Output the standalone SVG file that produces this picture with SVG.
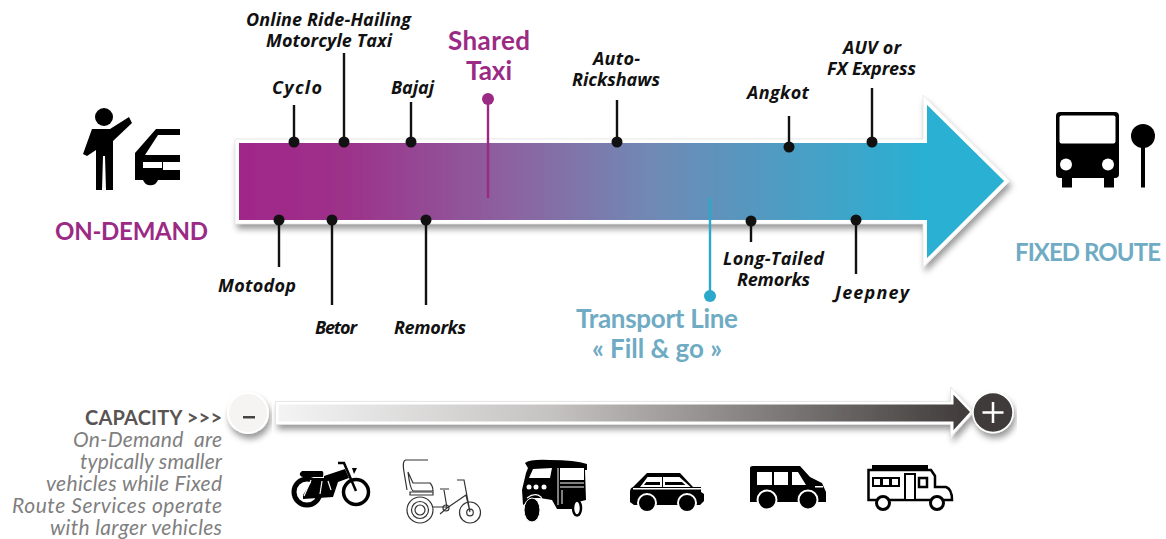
<svg xmlns="http://www.w3.org/2000/svg" width="1166" height="539" viewBox="0 0 1166 539">
<style>
.l{font:italic 700 18px "Open Sans","Liberation Sans",sans-serif;fill:#111}
.h{font:700 24px "Lato","Liberation Sans",sans-serif}
.t{font:700 26px "Lato","Liberation Sans",sans-serif}
.n{font:italic 400 21px "Lato","Liberation Sans",sans-serif;fill:#7f7f7f;white-space:pre}
.s{stroke:#111;stroke-width:2.4;fill:none}
.d{fill:#111}
</style>
<defs>
<linearGradient id="g1" gradientUnits="userSpaceOnUse" x1="237" y1="0" x2="925" y2="0"><stop offset="0" stop-color="#a0278a"/><stop offset=".15" stop-color="#9d3089"/><stop offset=".4" stop-color="#8c63a0"/><stop offset=".6" stop-color="#7089b4"/><stop offset="1" stop-color="#29b0d2"/></linearGradient>
<linearGradient id="g2" gradientUnits="userSpaceOnUse" x1="277" y1="0" x2="972" y2="0"><stop offset="0" stop-color="#f4f4f4"/><stop offset=".4" stop-color="#c4c2c1"/><stop offset="1" stop-color="#3f3a39"/></linearGradient>
<filter id="sh" x="-10%" y="-30%" width="120%" height="170%"><feDropShadow dx="2" dy="5" stdDeviation="3" flood-color="#000" flood-opacity=".4"/></filter>
</defs>

<g id="main-arrow"><path d="M237 141H925V100L1007 181L925 263V222H237Z" fill="url(#g1)" stroke="#fff" stroke-width="4" filter="url(#sh)"/><path d="M235 139H923V95L1010 181L923 267V224H235Z" fill="none" stroke="#e4e4e4" stroke-width=".8"/></g>

<g id="connectors">
<path class="s" d="M294 105V142M344 53V142M411 102V142M617 100V142M789 116V147M872 88V142M279 220V267M332 220V305M426 220V305M751 221V242M856 220V274"/>
<path d="M488 99V198" stroke="#9b2a85" stroke-width="2.4" fill="none"/>
<path d="M710 198V296" stroke="#2ba9cb" stroke-width="2.4" fill="none"/>
<g class="d"><circle cx="294" cy="142" r="5.500"/><circle cx="344" cy="142" r="5.500"/><circle cx="411" cy="142" r="5.500"/><circle cx="617" cy="142" r="5.500"/><circle cx="789" cy="147" r="5.500"/><circle cx="872" cy="142" r="5.500"/><circle cx="279" cy="220" r="5.500"/><circle cx="332" cy="220" r="5.500"/><circle cx="426" cy="220" r="5.500"/><circle cx="751" cy="221" r="5.500"/><circle cx="856" cy="220" r="5.500"/></g>
<circle cx="488" cy="99" r="6" fill="#9b2a85"/><circle cx="710" cy="296" r="6" fill="#2ba9cb"/>
</g>

<g id="labels">
<text class="l" x="246" y="25.500" textLength="165">Online Ride-Hailing</text>
<text class="l" x="266" y="46.500" textLength="126">Motorcyle Taxi</text>
<text class="l" x="272" y="93.500" textLength="50">Cyclo</text>
<text class="l" x="391" y="93.500" textLength="43">Bajaj</text>
<text class="l" x="593" y="64.500" textLength="47">Auto-</text>
<text class="l" x="572" y="85.500" textLength="88">Rickshaws</text>
<text class="l" x="747" y="98.500" textLength="62">Angkot</text>
<text class="l" x="843" y="53.500" textLength="58">AUV or</text>
<text class="l" x="827" y="74.500" textLength="89">FX Express</text>
<text class="l" x="218" y="291.500" textLength="78">Motodop</text>
<text class="l" x="315" y="333.500" textLength="42">Betor</text>
<text class="l" x="394" y="333.500" textLength="72">Remorks</text>
<text class="l" x="723" y="264.500" textLength="101">Long-Tailed</text>
<text class="l" x="737" y="285.500" textLength="73">Remorks</text>
<text class="l" x="835" y="298.500" textLength="74">Jeepney</text>
<text class="t" x="448" y="49.500" textLength="82" fill="#9b2a85">Shared</text>
<text class="t" x="466" y="79.500" textLength="46" fill="#9b2a85">Taxi</text>
<text class="t" x="576" y="327.500" textLength="162" fill="#6fabc3">Transport Line</text>
<text class="t" x="592" y="357.500" textLength="130" fill="#6fabc3">« Fill &amp; go »</text>
<text class="h" x="55" y="239.500" textLength="153" fill="#9b2a85">ON-DEMAND</text>
<text class="h" x="1015" y="260.500" textLength="146" fill="#6fabc3">FIXED ROUTE</text>
<text x="85" y="424.500" textLength="137" font-family="Lato,'Liberation Sans',sans-serif" font-weight="700" font-size="20" fill="#595453">CAPACITY &gt;&gt;&gt;</text>
<text class="n" x="73" y="447" textLength="149">On-Demand  are</text>
<text class="n" x="80" y="469" textLength="142">typically smaller</text>
<text class="n" x="46" y="491" textLength="176">vehicles while Fixed</text>
<text class="n" x="12" y="513" textLength="210">Route Services operate</text>
<text class="n" x="50" y="535" textLength="172">with larger vehicles</text>
</g>

<g id="on-demand-icon" fill="#000">
<circle cx="104" cy="117" r="9"/>
<path d="M92 129H110L129 117L132 123L113 141V190H106L105 156H103L102 190H96V150L87 156L83 154Z"/>
<path fill-rule="evenodd" d="M180 129H156L135 153V180H143A8 8 0 0 0 158 180H180V170H163V162H180V155H145L158 135H180ZM143 162V168H162V162Z"/>
</g>

<g id="fixed-route-icon" fill="#000">
<rect x="1056" y="112" width="63" height="66" rx="4"/>
<rect x="1059.500" y="115.500" width="56" height="28" fill="#fff" rx="2"/>
<circle cx="1066" cy="164.500" r="6" fill="#fff"/><circle cx="1108" cy="164.500" r="6" fill="#fff"/>
<rect x="1062" y="176" width="10" height="11.500"/><rect x="1104" y="176" width="10" height="11.500"/>
<circle cx="1143" cy="136" r="12"/><rect x="1141" y="140" width="4" height="47.500"/>
</g>

<g id="capacity-arrow"><path d="M277 403H952V391L972 412L952 434V423H277Z" fill="url(#g2)" stroke="#fff" stroke-width="3" filter="url(#sh)"/><path d="M275.500 401.500H950.500V387L974 412L950.500 437V424.500H275.500Z" fill="none" stroke="#ddd" stroke-width=".7"/></g>

<g id="minus-node"><circle cx="248" cy="413" r="20" fill="#f5f4f3" stroke="#fff" stroke-width="2" filter="url(#sh)"/><rect x="243" y="416" width="12" height="2.500" fill="#444"/></g>
<g id="plus-node"><circle cx="993" cy="412.500" r="20" fill="#403b3a" stroke="#fff" stroke-width="1.500" filter="url(#sh)"/><path d="M993 402V423M982.500 412.500H1003.500" stroke="#fff" stroke-width="2.500"/></g>

<g id="motorcycle">
<circle cx="307" cy="492" r="13" fill="none" stroke="#000" stroke-width="5"/>
<circle cx="356" cy="492" r="12.500" fill="none" stroke="#000" stroke-width="3.500"/>
<path d="M302 471H322Q324 471 323 477H303Q299 476 300 473Z" fill="#000"/>
<path d="M324 476L345 469L349 478L338 482L333 497L303 499V495L310 484L314 478H324Z" fill="#000"/>
<path d="M311 480L304 496M322 481L320 494M328 481L331 490" stroke="#fff" stroke-width="1.200" fill="none"/>
<path d="M338 463H344L356 491" fill="none" stroke="#000" stroke-width="2.500"/>
<path d="M352 468H357L354 474Z" fill="#000"/>
</g>

<g id="pedicab" fill="none" stroke="#333" stroke-width="1.200">
<path d="M428 460H406Q402 460 404 472L407 490"/>
<path d="M408 472L413 483H430Q433 486 433 491H413Q410 489 408 472Z"/>
<path d="M410 492H433V495H410Z"/>
<circle cx="420" cy="510" r="13"/><circle cx="420" cy="510" r="8.500"/><circle cx="420" cy="510" r="5"/>
<circle cx="470" cy="512.500" r="10.500"/><circle cx="470" cy="512.500" r="3.300"/>
<path d="M433 507H447M447 508L466 495L470 512M457 480H464L470 512M447 508L444 490M440 489H449M447 508L440 514"/>
<circle cx="446" cy="508" r="3"/>
</g>

<g id="tuktuk" fill="#000">
<path d="M525 463Q530 459 550 460Q575 460 587 464V470L585 470L586 500L578 502L572 509H557L552 500L540 498L533 498L523 505L522 490L526 473L528 468Z"/>
<path d="M529 478L533 469L552 468L550 478Z" fill="#fff"/>
<path d="M560 468H584V480H560Z" fill="#fff"/>
<path d="M558 468V505" stroke="#fff" stroke-width="1"/>
<path d="M560 483H584M560 487H584M562 490V504" stroke="#fff" stroke-width="1" fill="none"/>
<circle cx="529" cy="487" r="2.500" fill="#fff"/><circle cx="536" cy="487" r="2.500" fill="#fff"/><circle cx="544" cy="487" r="2.500" fill="#fff"/>
<path d="M527 498Q535 492 541 497L545 507" stroke="#fff" stroke-width="1.200" fill="none"/>
<ellipse cx="532" cy="510" rx="8" ry="12" stroke="#fff"/>
<ellipse cx="577" cy="508" rx="4" ry="7.500" stroke="#000" stroke-width="2.500" fill="#fff"/>
</g>

<g id="car" fill="#000">
<path d="M633 487L647 473H680L693 487H701V492L704 494V501L700 505H634L630 502V492Q630 488 633 487Z"/>
<path d="M642 486L648 478H661V486ZM664 478H679L688 486H664Z" stroke="#fff" stroke-width="2"/>
<path d="M642 486L648 478H661V482H646ZM664 478H679L683 482H664Z" fill="#fff"/>
<rect x="633" y="488" width="68" height="1.500" fill="#fff"/>
<circle cx="647" cy="503" r="9" stroke="#fff" stroke-width="2"/><circle cx="687" cy="503" r="9" stroke="#fff" stroke-width="2"/>
</g>

<g id="van" fill="#000">
<path d="M753 466H800L810 477L822 483L826 492V502H750V468Q750 466 753 466Z"/>
<path d="M757 472H772V485H757ZM774 472H788V485H774ZM792 472H798L806 485H792Z" fill="#fff"/>
<rect x="815" y="486" width="8" height="1.500" fill="#fff"/>
<circle cx="767" cy="500" r="9.500" stroke="#fff" stroke-width="2"/><circle cx="808" cy="500" r="9.500" stroke="#fff" stroke-width="2"/>
</g>

<g id="truck-bus">
<path d="M868.500 470H931L935 476V487H946Q952 489 952 500H868.500Z" fill="#fff" stroke="#000" stroke-width="2.500"/>
<rect x="872" y="465" width="56" height="6" fill="#000"/>
<rect x="872" y="477" width="28" height="10" fill="#000"/>
<path d="M874 479H880V485H874ZM883 479H889V485H883ZM892 479H898V485H892Z" fill="#fff"/>
<rect x="905" y="474" width="10" height="26" fill="#fff" stroke="#000" stroke-width="2"/>
<rect x="919" y="478" width="8" height="9" fill="#fff" stroke="#000" stroke-width="2.500"/>
<circle cx="883" cy="503" r="6.500" fill="#fff" stroke="#000" stroke-width="3"/><circle cx="937" cy="503" r="6.500" fill="#fff" stroke="#000" stroke-width="3"/>
</g>
</svg>
